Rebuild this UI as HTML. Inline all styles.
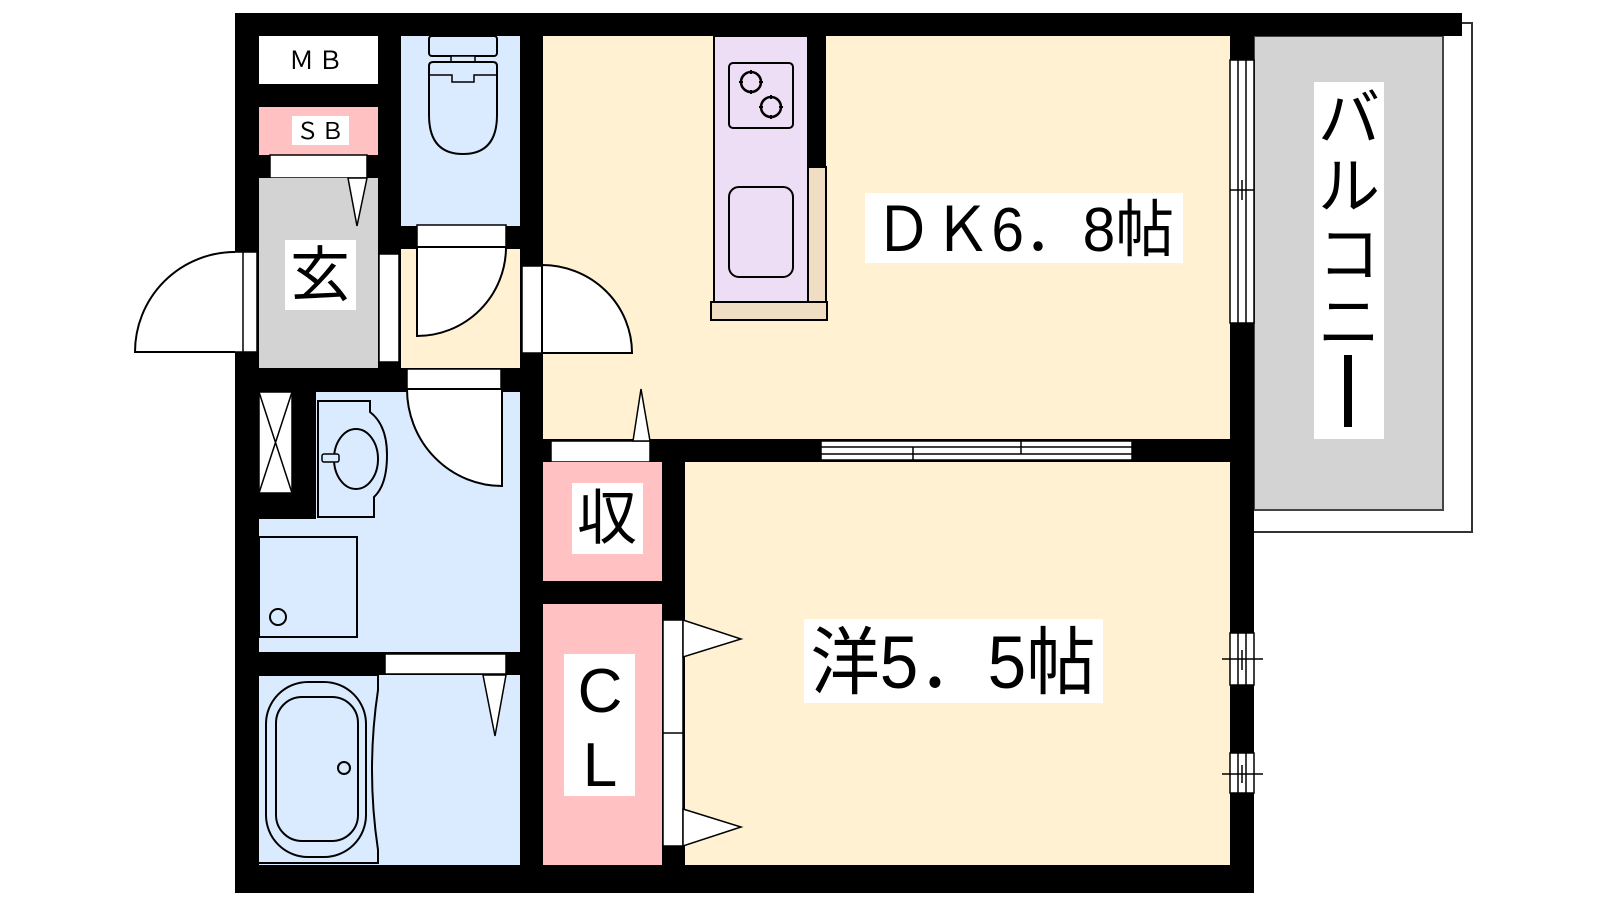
<!DOCTYPE html>
<html><head><meta charset="utf-8"><style>
html,body{margin:0;padding:0;background:#fff;width:1600px;height:900px;overflow:hidden}
svg{display:block}
text{font-family:"Liberation Sans","Noto Sans CJK JP",sans-serif;fill:#000}
</style></head><body>
<svg width="1600" height="900" viewBox="0 0 1600 900" xmlns="http://www.w3.org/2000/svg">
<path d="M1440 23 H1472 V532 H1254" fill="none" stroke="#333" stroke-width="2"/>
<rect x="1254" y="36" width="189" height="474" fill="#d3d3d3" stroke="#444" stroke-width="2"/>
<rect x="235" y="13" width="1019" height="880" fill="#000"/>
<rect x="1254" y="13" width="208" height="23" fill="#000"/>

<rect x="259" y="36" width="119" height="48" fill="#fff"/>
<text x="318" y="69" font-size="25" text-anchor="middle" letter-spacing="4">ＭＢ</text>
<rect x="259" y="107" width="119" height="48" fill="#ffc1c1"/>
<rect x="292" y="116" width="57" height="29" fill="#fff"/>
<text x="321" y="139" font-size="23" text-anchor="middle" letter-spacing="2">ＳＢ</text>
<rect x="270" y="155" width="97" height="23" fill="#fff" stroke="#000" stroke-width="1.5"/>
<rect x="259" y="178" width="119" height="190" fill="#d3d3d3"/>
<polygon points="348,178 367,178 357,226" fill="#fff" stroke="#000" stroke-width="1.5"/>
<rect x="285" y="240" width="71" height="70" fill="#fff"/>
<text x="320" y="296" font-size="60" text-anchor="middle">玄</text>
<rect x="230" y="252" width="27" height="100" fill="#fff" stroke="#000" stroke-width="1.5"/>
<line x1="243" y1="252" x2="243" y2="352" stroke="#000" stroke-width="1.5"/>
<path d="M235 252 A100 100 0 0 0 135 352 H235" fill="#fff" stroke="#000" stroke-width="2"/>
<rect x="379" y="254" width="20" height="108" fill="#fff" stroke="#000" stroke-width="1.5"/>

<rect x="401" y="36" width="119" height="190" fill="#dbebff"/>
<rect x="429" y="36" width="68" height="20" rx="3" fill="#dbebff" stroke="#000" stroke-width="2"/>
<rect x="451" y="56" width="24" height="6" fill="#dbebff" stroke="#000" stroke-width="1.5"/>
<path d="M429 66 Q429 62 433 62 H493 Q497 62 497 66 V115 Q497 154 463 154 Q429 154 429 115 Z" fill="#dbebff" stroke="#000" stroke-width="2"/>
<path d="M429 75 H452 V82 H474 V75 H497" fill="none" stroke="#000" stroke-width="1.5"/>
<rect x="401" y="249" width="119" height="119" fill="#fff1d2"/>
<rect x="417" y="225" width="89" height="22" fill="#fff" stroke="#000" stroke-width="1.5"/>
<path d="M417 247 V336 A89 89 0 0 0 506 247 Z" fill="#fff" stroke="#000" stroke-width="2"/>

<rect x="316" y="392" width="204" height="127" fill="#dbebff"/>
<rect x="259" y="519" width="261" height="133" fill="#dbebff"/>
<rect x="259" y="392" width="33" height="101" fill="#fff" stroke="#000" stroke-width="1.5"/>
<path d="M259 392 L292 493 M292 392 L259 493" stroke="#000" stroke-width="1.5"/>
<rect x="407" y="369" width="94" height="20" fill="#fff" stroke="#000" stroke-width="1.5"/>
<path d="M502 389 V486 A95 97 0 0 1 407 389 Z" fill="#fff" stroke="#000" stroke-width="2"/>
<path d="M318 401 H370 V412 Q387 425 387 455 Q387 485 374 497 V517 H318 Z" fill="#dbebff" stroke="#000" stroke-width="2"/>
<ellipse cx="356" cy="459" rx="22" ry="30" fill="#dbebff" stroke="#000" stroke-width="2"/>
<rect x="322" y="454" width="17" height="8" rx="2" fill="#dbebff" stroke="#000" stroke-width="1.5"/>
<rect x="259" y="537" width="98" height="100" fill="#dbebff" stroke="#000" stroke-width="2"/>
<circle cx="278" cy="617" r="8" fill="none" stroke="#000" stroke-width="2"/>

<rect x="259" y="675" width="261" height="190" fill="#dbebff"/>
<rect x="385" y="654" width="121" height="20" fill="#fff" stroke="#000" stroke-width="1.5"/>
<polygon points="483,675 506,675 495,736" fill="#fff" stroke="#000" stroke-width="1.5"/>
<path d="M259 675 H378 V690 Q366 770 378 850 V863 H259" fill="none" stroke="#000" stroke-width="2"/>
<rect x="266" y="682" width="100" height="175" rx="42" fill="none" stroke="#000" stroke-width="2"/>
<rect x="276" y="697" width="82" height="144" rx="26" fill="none" stroke="#000" stroke-width="2"/>
<circle cx="344" cy="768" r="6" fill="none" stroke="#000" stroke-width="2"/>

<rect x="543" y="36" width="687" height="403" fill="#fff1d2"/>
<rect x="522" y="266" width="20" height="87" fill="#fff" stroke="#000" stroke-width="1.5"/>
<path d="M542 265 A90 88 0 0 1 632 353 H542 Z" fill="#fff" stroke="#000" stroke-width="2"/>
<rect x="714" y="36" width="94" height="266" fill="#eedef5" stroke="#000" stroke-width="2"/>
<rect x="808" y="36" width="18" height="131" fill="#000"/>
<rect x="808" y="167" width="18" height="135" fill="#f0dec4" stroke="#000" stroke-width="2"/>
<rect x="711" y="302" width="116" height="18" fill="#f0dec4" stroke="#000" stroke-width="2"/>
<rect x="729" y="63" width="64" height="65" rx="4" fill="none" stroke="#000" stroke-width="2"/>
<circle cx="751" cy="82" r="10" fill="none" stroke="#000" stroke-width="2.5"/>
<circle cx="771" cy="107" r="10" fill="none" stroke="#000" stroke-width="2.5"/>
<path d="M751 70 v4 M751 90 v4 M739 82 h4 M759 82 h4 M771 95 v4 M771 115 v4 M759 107 h4 M779 107 h4" stroke="#000" stroke-width="2"/>
<rect x="729" y="187" width="64" height="90" rx="10" fill="none" stroke="#000" stroke-width="2"/>
<rect x="865" y="193" width="318" height="70" fill="#fff"/>
<text x="1024" y="251" font-size="62" text-anchor="middle" textLength="300" lengthAdjust="spacingAndGlyphs">ＤＫ6．8帖</text>
<rect x="551" y="441" width="99" height="21" fill="#fff" stroke="#000" stroke-width="1.5"/>
<polygon points="633,441 650,441 641,389" fill="#fff" stroke="#000" stroke-width="1.5"/>
<rect x="821" y="441" width="311" height="19" fill="#fff" stroke="#000" stroke-width="1.5"/>
<line x1="821" y1="447" x2="1132" y2="447" stroke="#000" stroke-width="1.5"/>
<line x1="821" y1="454" x2="1132" y2="454" stroke="#000" stroke-width="1.5"/>
<path d="M913 447 v13 M1021 441 v13" stroke="#000" stroke-width="1.5"/>
<rect x="1230" y="60" width="24" height="263" fill="#fff" stroke="#000" stroke-width="1.5"/>
<path d="M1238 60 V323 M1246 60 V323 M1230 190 H1254 M1242 180 V200" stroke="#000" stroke-width="1.5"/>

<rect x="543" y="462" width="119" height="119" fill="#ffc1c1"/>
<rect x="572" y="483" width="71" height="71" fill="#fff"/>
<text x="607" y="539" font-size="60" text-anchor="middle">収</text>
<rect x="543" y="604" width="119" height="261" fill="#ffc1c1"/>
<rect x="564" y="654" width="71" height="142" fill="#fff"/>
<text x="600" y="712" font-size="62" text-anchor="middle">C</text>
<text x="600" y="786" font-size="62" text-anchor="middle">L</text>
<rect x="685" y="462" width="545" height="403" fill="#fff1d2"/>
<rect x="663" y="620" width="20" height="226" fill="#fff" stroke="#000" stroke-width="1.5"/>
<line x1="663" y1="733" x2="683" y2="733" stroke="#000" stroke-width="1.5"/>
<polygon points="683,620 741,639 683,657" fill="#fff" stroke="#000" stroke-width="1.5"/>
<polygon points="683,809 741,827 683,846" fill="#fff" stroke="#000" stroke-width="1.5"/>
<rect x="804" y="619" width="299" height="84" fill="#fff"/>
<text x="953" y="688" font-size="74" text-anchor="middle" textLength="285" lengthAdjust="spacingAndGlyphs">洋5．5帖</text>
<rect x="1230" y="633" width="24" height="52" fill="#fff" stroke="#000" stroke-width="1.5"/>
<path d="M1238 633 V685 M1246 633 V685 M1222 659 H1263 M1242 650 V670" stroke="#000" stroke-width="1.5"/>
<rect x="1230" y="753" width="24" height="40" fill="#fff" stroke="#000" stroke-width="1.5"/>
<path d="M1238 753 V793 M1246 753 V793 M1222 774 H1263 M1242 765 V783" stroke="#000" stroke-width="1.5"/>

<rect x="1314" y="82" width="70" height="357" fill="#fff"/>
<text x="1349" y="140" font-size="62" text-anchor="middle">バ</text>
<text x="1349" y="208" font-size="62" text-anchor="middle">ル</text>
<text x="1349" y="276" font-size="62" text-anchor="middle">コ</text>
<text x="1349" y="344" font-size="62" text-anchor="middle">ニ</text>
<rect x="1344" y="355" width="8" height="72" fill="#000"/>
</svg>
</body></html>
